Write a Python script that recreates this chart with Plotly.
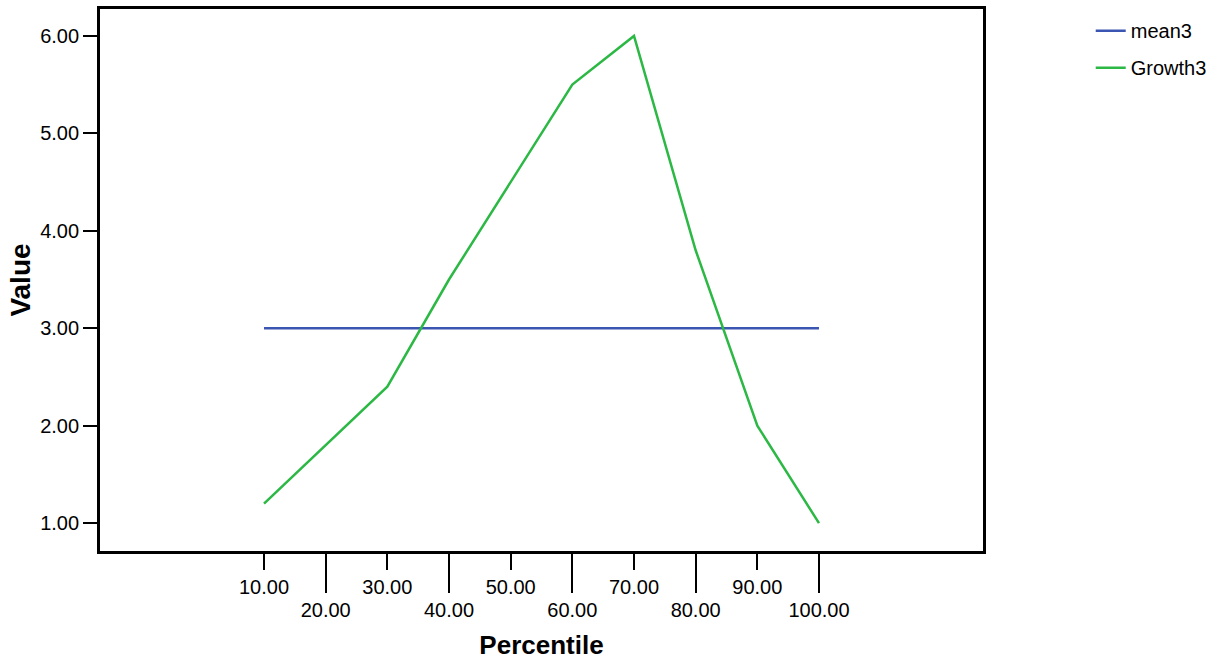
import plotly.graph_objects as go

percentile = [10, 20, 30, 40, 50, 60, 70, 80, 90, 100]
mean3 = [3.0, 3.0, 3.0, 3.0, 3.0, 3.0, 3.0, 3.0, 3.0, 3.0]
growth3 = [1.2, 1.8, 2.4, 3.5, 4.5, 5.5, 6.0, 3.8, 2.0, 1.0]

odd_ticks = [10, 30, 50, 70, 90]
even_ticks = [20, 40, 60, 80, 100]
y_ticks = [1, 2, 3, 4, 5, 6]

FONT = "Liberation Sans, Arial, sans-serif"
xr = [-16.6, 126.6]

fig = go.Figure()
fig.add_trace(go.Scatter(x=percentile, y=mean3, name="mean3", mode="lines",
                         legendgroup="a",
                         line=dict(color="#3b55b2", width=2.5)))
fig.add_trace(go.Scatter(x=percentile, y=growth3, name="Growth3", mode="lines",
                         legendgroup="b",
                         line=dict(color="#2cb844", width=2.5), xaxis="x2"))

fig.update_layout(
    width=1218, height=665,
    margin=dict(l=100, r=235, t=6, b=114),
    paper_bgcolor="white", plot_bgcolor="white",
    font=dict(family=FONT, size=20, color="black"),
    showlegend=True,
    legend=dict(x=1.122, y=0.996, xanchor="left", yanchor="top",
                font=dict(size=20), bgcolor="rgba(0,0,0,0)",
                traceorder="grouped", tracegroupgap=8),
    xaxis=dict(range=xr, tickmode="array", tickvals=odd_ticks,
               ticktext=[f"{v:.2f}" for v in odd_ticks],
               ticks="outside", ticklen=16, tickwidth=2, tickcolor="black",
               showline=True, linecolor="black", linewidth=2.8, mirror=True,
               showgrid=False, zeroline=False),
    xaxis2=dict(range=xr, overlaying="x", side="bottom", anchor="y",
                tickmode="array", tickvals=even_ticks,
                ticktext=[f"{v:.2f}" for v in even_ticks],
                ticks="outside", ticklen=41, tickwidth=2, tickcolor="black",
                showline=False, showgrid=False, zeroline=False,
                title=dict(text="<b>Percentile</b>", font=dict(size=26), standoff=15)),
    yaxis=dict(range=[0.714, 6.276], tickmode="array", tickvals=y_ticks,
               ticktext=[f"{v:.2f}" for v in y_ticks],
               ticks="outside", ticklen=14, tickwidth=2, tickcolor="black",
               showline=True, linecolor="black", linewidth=2.8, mirror=True,
               showgrid=False, zeroline=False,
               title=dict(text="<b>Value</b>", font=dict(size=28), standoff=2)),
)

fig.write_html("out.html", config={"displayModeBar": False},
               post_script="document.body.style.margin='0';")
